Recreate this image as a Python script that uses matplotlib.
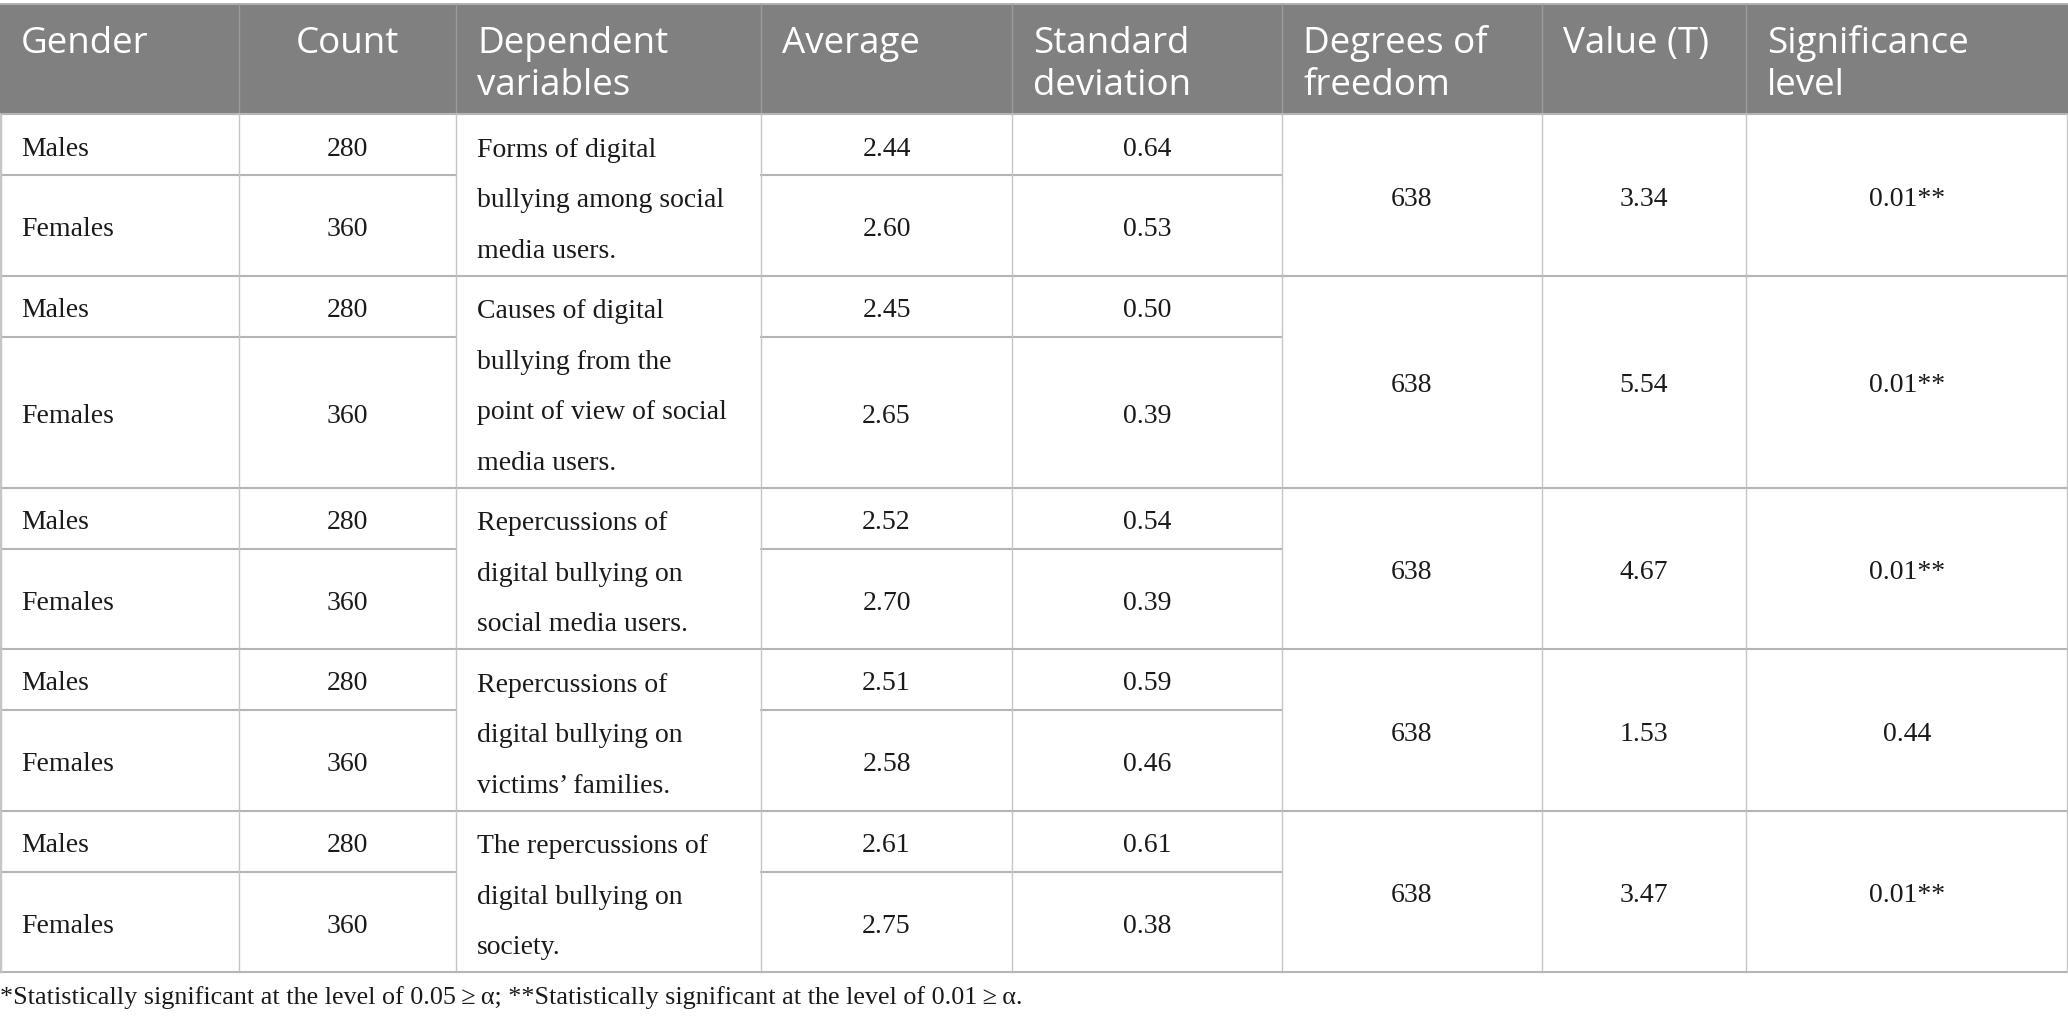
import matplotlib.pyplot as plt
from matplotlib.patches import Rectangle

# table content
headers = ['Gender', 'Count', 'Dependent\nvariables', 'Average', 'Standard\ndeviation',
           'Degrees of\nfreedom', 'Value (T)', 'Significance\nlevel']
genders = ['Males', 'Females']
counts = [280, 360]
dep_variables = [
    ['Forms of digital', 'bullying among social', 'media users.'],
    ['Causes of digital', 'bullying from the', 'point of view of social', 'media users.'],
    ['Repercussions of', 'digital bullying on', 'social media users.'],
    ['Repercussions of', 'digital bullying on', 'victims\u2019 families.'],
    ['The repercussions of', 'digital bullying on', 'society.'],
]
averages = [[2.44, 2.60], [2.45, 2.65], [2.52, 2.70], [2.51, 2.58], [2.61, 2.75]]
std_devs = [[0.64, 0.53], [0.50, 0.39], [0.54, 0.39], [0.59, 0.46], [0.61, 0.38]]
dof = [638, 638, 638, 638, 638]
t_values = [3.34, 5.54, 4.67, 1.53, 3.47]
significance = ['0.01**', '0.01**', '0.01**', '0.44', '0.01**']
footnote = ('*Statistically significant at the level of 0.05\u2009\u2265\u2009\u03b1; '
            '**Statistically significant at the level of 0.01\u2009\u2265\u2009\u03b1.')

W, H = 2068, 1026
col_x = [0, 239, 456, 761, 1012, 1282, 1542, 1746, W]
head_align = ['left', 'center', 'left', 'left', 'left', 'left', 'left', 'left']
pad = 21
head_top, head_bot = 4, 114
line_h = 50.5
male_h = 61

header_color = '#7f807f'
hline_color = '#b5b5b5'
vline_color = '#c6c6c6'
text_color = '#1a1a1a'

sans = ['Open Sans', 'DejaVu Sans']
serif = ['Liberation Serif', 'DejaVu Serif']
fs_head = 26.5
fs_body = 20

fig = plt.figure(figsize=(W / 100, H / 100), dpi=100)
ax = fig.add_axes([0, 0, 1, 1])
ax.set_xlim(0, W)
ax.set_ylim(H, 0)
ax.axis('off')


def cell_x(c, align):
    if align == 'center':
        return (col_x[c] + col_x[c + 1]) / 2
    return col_x[c] + pad


def put(c, yc, s, align='center'):
    ax.text(cell_x(c, align), yc + 11, s, ha=align, va='baseline',
            fontsize=fs_body, family=serif, color=text_color)


# header
ax.add_patch(Rectangle((0, head_top), W, head_bot - head_top, color=header_color, lw=0))
ax.plot([0, W], [head_top, head_top], color='#b0b0b0', lw=1.4)
for c, h in enumerate(headers):
    for k, part in enumerate(h.split('\n')):
        ax.text(cell_x(c, head_align[c]), 53 + k * 42, part, ha=head_align[c], va='baseline',
                fontsize=fs_head, family=sans, color='white')
for x in col_x[1:-1]:
    ax.plot([x, x], [head_top, head_bot], color='#9c9c9c', lw=1.0)

# body
y = head_bot
ax.plot([0, W], [y, y], color=hline_color, lw=1.5)
for g in range(len(dep_variables)):
    lines = dep_variables[g]
    gh = line_h * len(lines) + 10
    y_split = y + male_h
    row_c = [(y + y_split) / 2, (y_split + y + gh) / 2]
    gc = y + gh / 2
    for r in range(2):
        put(0, row_c[r], genders[r], 'left')
        put(1, row_c[r], str(counts[r]))
        put(3, row_c[r], f'{averages[g][r]:.2f}')
        put(4, row_c[r], f'{std_devs[g][r]:.2f}')
    for k, s in enumerate(lines):
        put(2, gc + 1.5 + (k - (len(lines) - 1) / 2) * line_h, s, 'left')
    put(5, gc, str(dof[g]))
    put(6, gc, f'{t_values[g]:.2f}')
    put(7, gc, significance[g])
    # split line in non-merged columns
    for c in (0, 1, 3, 4):
        ax.plot([col_x[c], col_x[c + 1]], [y_split, y_split], color=hline_color, lw=1.5)
    for x in col_x:
        ax.plot([x, x], [y, y + gh], color=vline_color, lw=1.0)
    y += gh
    ax.plot([0, W], [y, y], color=hline_color, lw=1.5)

ax.plot([1, 1], [head_bot, y], color=vline_color, lw=1.0)
ax.plot([W - 1, W - 1], [head_bot, y], color=vline_color, lw=1.0)

ax.text(0, 1004, footnote, ha='left', va='baseline', fontsize=18.8, family=serif,
        color=text_color)

fig.savefig('out.png', dpi=100, facecolor='white')
